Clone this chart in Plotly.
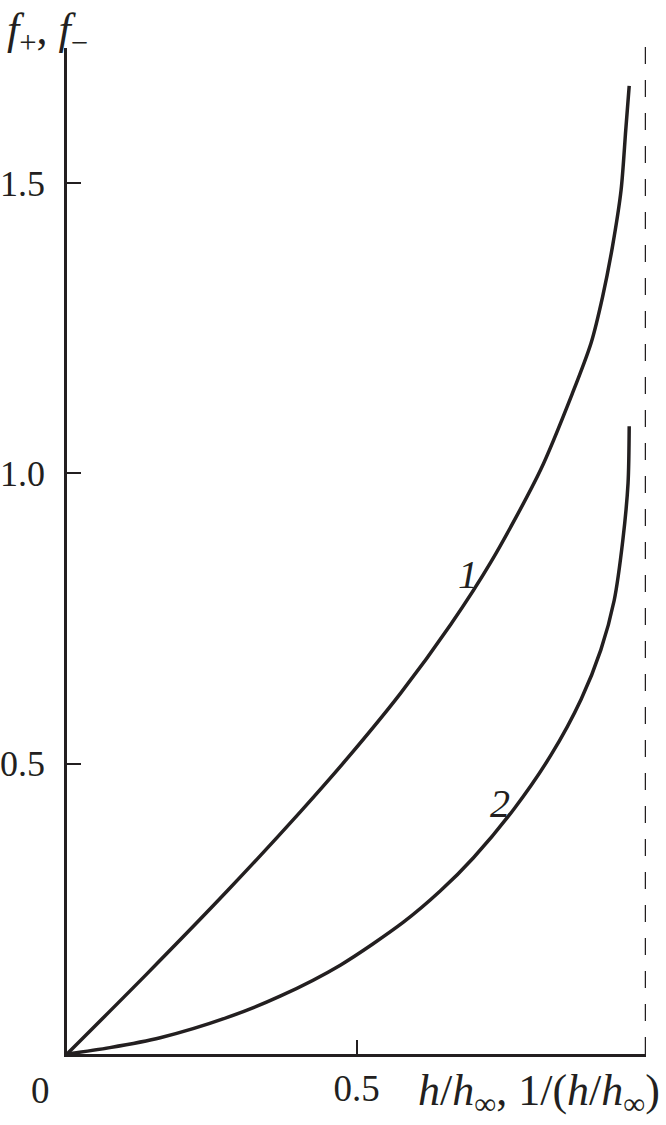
import plotly.graph_objects as go

# Curve 1 (f+)
x1 = [0.0, 0.138, 0.277, 0.403, 0.484, 0.576, 0.663, 0.732, 0.818, 0.873, 0.905, 0.925, 0.942, 0.957, 0.965, 0.971]
y1 = [0.0, 0.138, 0.281, 0.417, 0.509, 0.621, 0.740, 0.847, 1.006, 1.138, 1.224, 1.304, 1.390, 1.488, 1.591, 1.667]

# Curve 2 (f-)
x2 = [0.0, 0.074, 0.161, 0.277, 0.369, 0.472, 0.581, 0.645, 0.702, 0.772, 0.836, 0.888, 0.922, 0.945, 0.960, 0.969, 0.971]
y2 = [0.0, 0.011, 0.028, 0.063, 0.100, 0.153, 0.227, 0.281, 0.338, 0.422, 0.515, 0.611, 0.696, 0.781, 0.885, 0.983, 1.081]

y_ticks = [0.5, 1.0, 1.5]
y_tick_labels = ["0.5", "1.0", "1.5"]
x_ticks = [0.5]
x_tick_labels = ["0.5"]
asymptote_x = 1.0

INK = "#231f20"
FONT = "Liberation Serif"

fig = go.Figure()
fig.add_trace(go.Scatter(x=x1, y=y1, mode="lines",
                         line=dict(color=INK, width=3.5, shape="spline", smoothing=0.8),
                         showlegend=False, hoverinfo="skip"))
fig.add_trace(go.Scatter(x=x2, y=y2, mode="lines",
                         line=dict(color=INK, width=3.5, shape="spline", smoothing=0.8),
                         showlegend=False, hoverinfo="skip"))

fig.add_shape(type="line", xref="x", yref="paper", x0=asymptote_x, x1=asymptote_x, y0=0, y1=1.006,
              line=dict(color=INK, width=2.5, dash="17px,16px"))

fig.update_layout(
    width=666, height=1125,
    margin=dict(l=67, r=20, t=48, b=71, autoexpand=False),
    paper_bgcolor="white", plot_bgcolor="white",
    font=dict(family=FONT, size=36, color=INK),
    xaxis=dict(range=[0, 1.0], showgrid=False, zeroline=False, showline=True, linecolor=INK, linewidth=2.5,
               automargin=False,
               ticks="inside", ticklen=14, tickwidth=2, tickcolor=INK,
               tickvals=x_ticks, ticktext=x_tick_labels, tickfont=dict(family=FONT, size=37, color=INK)),
    yaxis=dict(range=[0, 1.7324], showgrid=False, zeroline=False, showline=True, linecolor=INK, linewidth=2.5,
               automargin=False, ticklabelstandoff=12,
               ticks="inside", ticklen=14, tickwidth=2, tickcolor=INK,
               tickvals=y_ticks, ticktext=y_tick_labels, tickfont=dict(family=FONT, size=36, color=INK)),
)

# origin label
fig.add_annotation(x=0, y=0, xref="x", yref="y", text="0", showarrow=False,
                   xanchor="center", yanchor="top", xshift=-27, yshift=-14,
                   font=dict(family=FONT, size=37, color=INK))
# x-axis title
fig.add_annotation(x=1, y=0, xref="paper", yref="paper",
                   text="<i>h</i>/<i>h</i><sub>∞</sub>, 1/(<i>h</i>/<i>h</i><sub>∞</sub>)",
                   showarrow=False, xanchor="right", yanchor="top", xshift=16, yshift=-10,
                   font=dict(family=FONT, size=44, color=INK))
# y-axis title
fig.add_annotation(x=0, y=1, xref="paper", yref="paper", text="<i>f</i><sub>+</sub>, <i>f</i><sub>−</sub>",
                   showarrow=False, xanchor="left", yanchor="bottom", xshift=-62, yshift=-14,
                   font=dict(family=FONT, size=44, color=INK))
# curve labels
fig.add_annotation(x=0.692, y=0.825, xref="x", yref="y", text="<i>1</i>", showarrow=False,
                   xanchor="center", yanchor="middle", font=dict(family=FONT, size=40, color=INK))
fig.add_annotation(x=0.747, y=0.432, xref="x", yref="y", text="<i>2</i>", showarrow=False,
                   xanchor="center", yanchor="middle", font=dict(family=FONT, size=40, color=INK))

# remove the default 8px page margin so the figure fills the window exactly
fig.write_html("out.html", config={"displayModeBar": False},
               post_script="document.body.style.margin='0';document.body.style.overflow='hidden';")
